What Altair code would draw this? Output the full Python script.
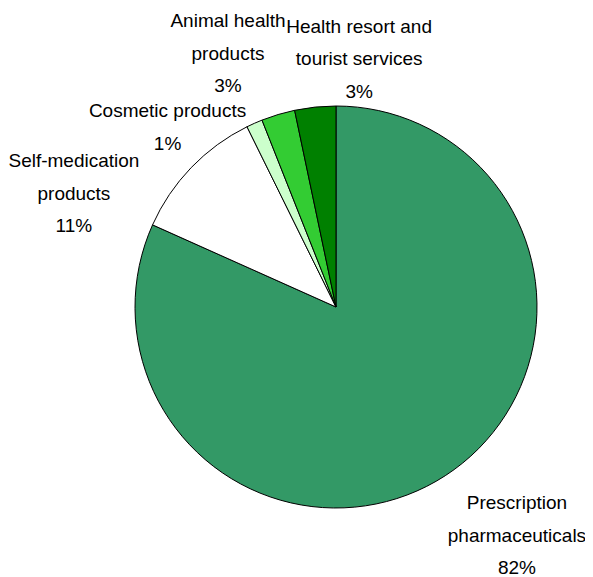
import altair as alt
import pandas as pd

# ---- data ----
categories = [
    "Prescription pharmaceuticals",
    "Self-medication products",
    "Cosmetic products",
    "Animal health products",
    "Health resort and tourist services",
]
values = [81.7, 11.0, 1.3, 2.7, 3.3]
label_lines = [
    ["Prescription", "pharmaceuticals"],
    ["Self-medication", "products"],
    ["Cosmetic products"],
    ["Animal health", "products"],
    ["Health resort and", "tourist services"],
]
colors = ["#339966", "#FFFFFF", "#CCFFCC", "#33CC33", "#008000"]

# ---- layout / style (not data) ----
CX, CY, R = 328, 299, 201
FONT = "Liberation Sans Narrow, Arial Narrow, Liberation Sans, Arial, sans-serif"
FS = 19
LH = 32.5
label_style = {
    "Prescription pharmaceuticals": dict(radius=250, dx=45, dy=19 - 32.5),
    "Self-medication products": dict(radius=250, dx=-82, dy=60 - 32.5),
    "Cosmetic products": dict(radius=250, dx=-67, dy=49 - 16.5),
    "Animal health products": dict(radius=250, dx=-36, dy=-14 - 32.5),
    "Health resort and tourist services": dict(radius=250, dx=49, dy=1 - 32.5),
}

df = pd.DataFrame({
    "category": categories,
    "value": values,
    "order": list(range(len(categories))),
})

theta_scale = alt.Scale(domain=[0, 100])
color_scale = alt.Scale(domain=categories, range=colors)

base = alt.Chart(df)

pie = base.mark_arc(
    x=CX, y=CY, outerRadius=R, stroke="black", strokeWidth=1
).encode(
    theta=alt.Theta("value:Q", stack=True, scale=theta_scale),
    color=alt.Color("category:N", scale=color_scale, legend=None),
    order=alt.Order("order:Q"),
)

layers = [pie]
for cat, lines, v in zip(categories, label_lines, values):
    st = label_style[cat]
    txt = base.transform_window(
        cum="sum(value)", sort=[alt.SortField("order")]
    ).transform_calculate(
        mid="datum.cum - datum.value / 2"
    ).transform_filter(
        alt.datum.category == cat
    ).mark_text(
        x=CX, y=CY,
        font=FONT, fontSize=FS, lineHeight=LH, color="black",
        align="center", baseline="middle",
        radius=st["radius"], dx=st["dx"], dy=st["dy"],
    ).encode(
        theta=alt.Theta("mid:Q", scale=theta_scale),
        text=alt.value(lines + [f"{round(v)}%"]),
    )
    layers.append(txt)

chart = alt.layer(*layers).properties(
    width=577, height=569, padding=0, autosize=alt.AutoSizeParams(type="none")
).configure_view(stroke=None).configure(background="white")

chart.save("out.html", embed_options={"renderer": "svg", "actions": False})
